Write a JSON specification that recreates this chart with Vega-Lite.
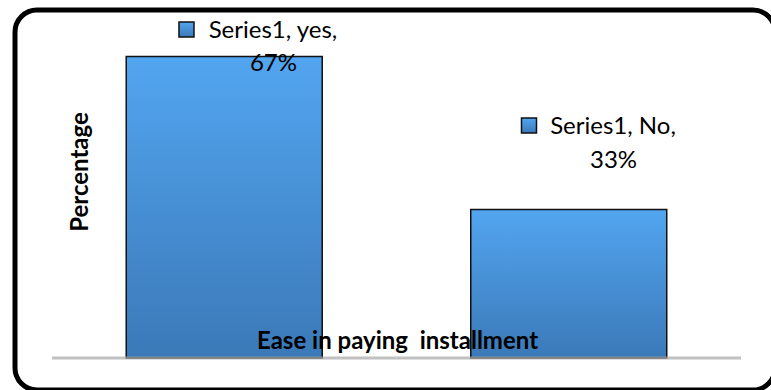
{
  "$schema": "https://vega.github.io/schema/vega-lite/v6.json",
  "autosize": {"type": "none"},
  "padding": {"left": 15, "top": 10, "right": 0, "bottom": 0},
  "width": 760,
  "height": 380,
  "background": "white",
  "config": {
    "view": {"stroke": "#000000", "strokeWidth": 5, "cornerRadius": 22},
    "font": "Lato"
  },
  "data": {
    "values": [
      {"answer": "yes", "pct": 67, "label1": "Series1, yes,", "label2": "67%"},
      {"answer": "No", "pct": 33, "label1": "Series1, No,", "label2": "33%"}
    ]
  },
  "encoding": {
    "x": {
      "field": "answer",
      "type": "nominal",
      "sort": null,
      "scale": {"paddingInner": 0, "paddingOuter": 0.103, "align": 0.521},
      "axis": {
        "domain": false, "ticks": false, "labels": false, "grid": false,
        "title": "Ease in paying\u00a0 installment",
        "titleFont": "Lato", "titleFontSize": 24, "titleFontWeight": "bold", "titleColor": "#000000",
        "titleX": 382, "titleY": -42, "titleAlign": "center", "titleBaseline": "alphabetic",
        "zindex": 2
      }
    },
    "y": {
      "field": "pct",
      "type": "quantitative",
      "scale": {"domain": [-7.11, 77.33], "nice": false, "zero": false},
      "axis": {
        "domain": false, "ticks": false, "labels": false, "grid": false,
        "title": "Percentage",
        "titleFont": "Lato", "titleFontSize": 24, "titleFontWeight": "bold", "titleColor": "#000000",
        "titleX": 72, "titleY": 161.5, "titleAngle": -90, "titleAlign": "center", "titleBaseline": "alphabetic"
      }
    }
  },
  "layer": [
    {
      "mark": {
        "type": "bar", "size": 196, "stroke": "#111111", "strokeWidth": 1.5,
        "fill": {"gradient": "linear", "x1": 0, "y1": 0, "x2": 0, "y2": 1,
          "stops": [{"offset": 0, "color": "#52A5F0"}, {"offset": 1, "color": "#3B79B8"}]}
      },
      "encoding": {"y2": {"datum": 0}}
    },
    {
      "mark": {"type": "tick", "orient": "horizontal", "size": 344.5, "thickness": 3, "color": "#A6A6A6"},
      "encoding": {"y": {"datum": 0}}
    },
    {
      "transform": [{"filter": "datum.answer === 'yes'"}],
      "layer": [
        {
          "mark": {"type": "point", "shape": "square", "size": 225, "filled": true, "opacity": 1,
            "fill": {"gradient": "linear", "x1": 0, "y1": 0, "x2": 0, "y2": 1,
              "stops": [{"offset": 0, "color": "#52A5F0"}, {"offset": 1, "color": "#3B79B8"}]},
            "stroke": "#111111", "strokeWidth": 1.5, "xOffset": -37.75, "yOffset": -27},
          "encoding": {}
        },
        {
          "mark": {"type": "text", "fontSize": 24, "font": "Lato", "color": "#000000", "align": "center", "baseline": "alphabetic", "dx": 48.75, "dy": -18.5},
          "encoding": {"text": {"field": "label1"}}
        },
        {
          "mark": {"type": "text", "fontSize": 24, "font": "Lato", "color": "#000000", "align": "center", "baseline": "alphabetic", "dx": 49.25, "dy": 14.5},
          "encoding": {"text": {"field": "label2"}}
        }
      ]
    },
    {
      "transform": [{"filter": "datum.answer === 'No'"}],
      "layer": [
        {
          "mark": {"type": "point", "shape": "square", "size": 225, "filled": true, "opacity": 1,
            "fill": {"gradient": "linear", "x1": 0, "y1": 0, "x2": 0, "y2": 1,
              "stops": [{"offset": 0, "color": "#52A5F0"}, {"offset": 1, "color": "#3B79B8"}]},
            "stroke": "#111111", "strokeWidth": 1.5, "xOffset": -39.75, "yOffset": -84},
          "encoding": {}
        },
        {
          "mark": {"type": "text", "fontSize": 24, "font": "Lato", "color": "#000000", "align": "center", "baseline": "alphabetic", "dx": 44.25, "dy": -75.5},
          "encoding": {"text": {"field": "label1"}}
        },
        {
          "mark": {"type": "text", "fontSize": 24, "font": "Lato", "color": "#000000", "align": "center", "baseline": "alphabetic", "dx": 44.75, "dy": -41.5},
          "encoding": {"text": {"field": "label2"}}
        }
      ]
    }
  ]
}
